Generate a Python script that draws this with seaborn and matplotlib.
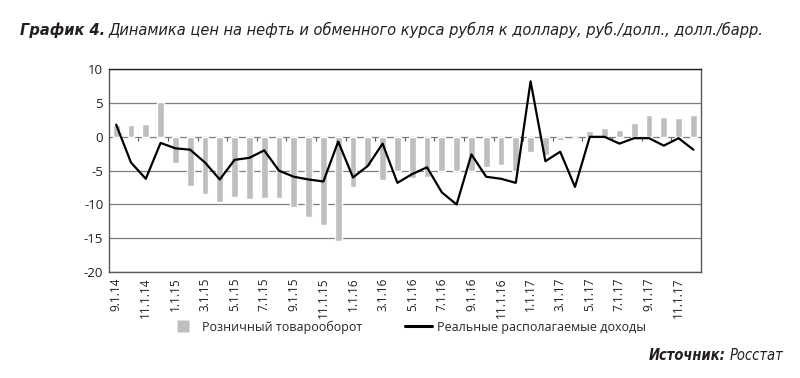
import numpy as np
import pandas as pd
import seaborn as sns
import matplotlib.pyplot as plt
from matplotlib.lines import Line2D

# ------------- данные (сен. 2014 - дек. 2017), % г/г -------------
months = [d.strftime('%-m.1.%y') for d in pd.date_range('2014-09-01', '2017-12-01', freq='MS')]

roznica = [1.8, 1.7, 1.9, 5.1, -3.9, -7.2, -8.4, -9.6, -8.9, -9.2,
           -9.0, -9.0, -10.4, -11.8, -13.1, -15.4, -7.4, -4.3, -6.4, -5.0,
           -6.1, -5.9, -5.1, -5.1, -5.1, -4.4, -4.1, -5.1, -2.3, -2.7,
           -0.4, 0.0, 0.8, 1.3, 1.0, 2.1, 3.2, 2.9, 2.8, 3.2]

dohody = [1.8, -3.8, -6.2, -0.9, -1.7, -1.9, -3.8, -6.3, -3.4, -3.1,
          -2.0, -5.0, -5.9, -6.3, -6.6, -0.7, -6.0, -4.3, -1.0, -6.8,
          -5.5, -4.5, -8.2, -10.0, -2.6, -5.9, -6.2, -6.8, 8.2, -3.6,
          -2.2, -7.4, 0.0, 0.0, -1.0, -0.2, -0.2, -1.3, -0.2, -1.9]

lbl_bar = 'Розничный товарооборот'
lbl_line = 'Реальные располагаемые доходы'
yticks = [10, 5, 0, -5, -10, -15, -20]

df = pd.DataFrame({'month': months, 'roznica': roznica, 'dohody': dohody})
df['pos'] = np.arange(len(df))

sns.set_style('white')
plt.rcParams['font.family'] = ['Open Sans', 'DejaVu Sans']

fig = plt.figure(figsize=(8, 3.78), dpi=100)
ax = fig.add_axes([0.136, 0.280, 0.740, 0.537])

bar_col = '#bcbec0'
sns.barplot(data=df, x='month', y='roznica', color=bar_col, width=0.45,
            saturation=1, ax=ax, zorder=3)
sns.lineplot(data=df, x='pos', y='dohody', color='black', linewidth=1.6,
             ax=ax, zorder=4)

ax.set_xlim(-0.5, len(df) - 0.5)
ax.set_ylim(-20, 10)
ax.set_yticks(yticks)
ax.set_yticklabels([str(t) for t in yticks], fontsize=9.5, color='#231f20')
ax.yaxis.grid(True, color='#7f7f7f', linewidth=0.9, zorder=0)
ax.set_axisbelow(True)

ax.set_xticks(df['pos'][::2])
ax.set_xticklabels(df['month'][::2], rotation=90, fontsize=8.5, color='#231f20')
ax.tick_params(axis='both', length=0, pad=4)
ax.set_xlabel('')
ax.set_ylabel('')

for s in ax.spines.values():
    s.set_color('#595959')
    s.set_linewidth(1.0)
ax.spines['top'].set_color('#231f20')

# засечки на нулевой линии
sec = ax.secondary_xaxis(2 / 3)
sec.set_xticks(np.arange(-0.5, len(df), 2))
sec.set_xticklabels([])
sec.tick_params(length=3, direction='in', color='#595959', width=0.8)
sec.spines['bottom'].set_visible(False)
sec.spines['top'].set_visible(False)

handles = [Line2D([0], [0], marker='s', linestyle='none', markersize=9,
                  markerfacecolor=bar_col, markeredgecolor='none'),
           Line2D([0], [0], color='black', linewidth=2.2)]
fig.legend(handles, [lbl_bar, lbl_line], loc='center', ncol=2,
           bbox_to_anchor=(0.51, 0.135), frameon=False, fontsize=9,
           handlelength=2.2, columnspacing=3.4, handletextpad=0.4)

# заголовок
cond = ['DejaVu Sans']
fig.canvas.draw()
r = fig.canvas.get_renderer()
t1 = fig.text(0.025, 0.92, 'График 4.', fontsize=11.7, fontweight='bold',
              fontstyle='italic', fontstretch='condensed', family=cond,
              va='center', color='#231f20')
bb = t1.get_window_extent(r)
fig.text(bb.x1 / fig.bbox.width + 0.004, 0.92,
         'Динамика цен на нефть и обменного курса рубля к доллару, руб./долл., долл./барр.',
         fontsize=11.7, fontstyle='italic', fontstretch='condensed', family=cond,
         va='center', color='#231f20')

t2 = fig.text(0.979, 0.06, 'Росстат', fontsize=10.5, fontstyle='italic',
              fontstretch='condensed', family=cond, ha='right', va='center',
              color='#231f20')
bb2 = t2.get_window_extent(r)
fig.text(bb2.x0 / fig.bbox.width - 0.005, 0.06, 'Источник:', fontsize=10.5,
         fontweight='bold', fontstyle='italic', fontstretch='condensed',
         family=cond, ha='right', va='center', color='#231f20')

fig.savefig('out.png', dpi=100)
